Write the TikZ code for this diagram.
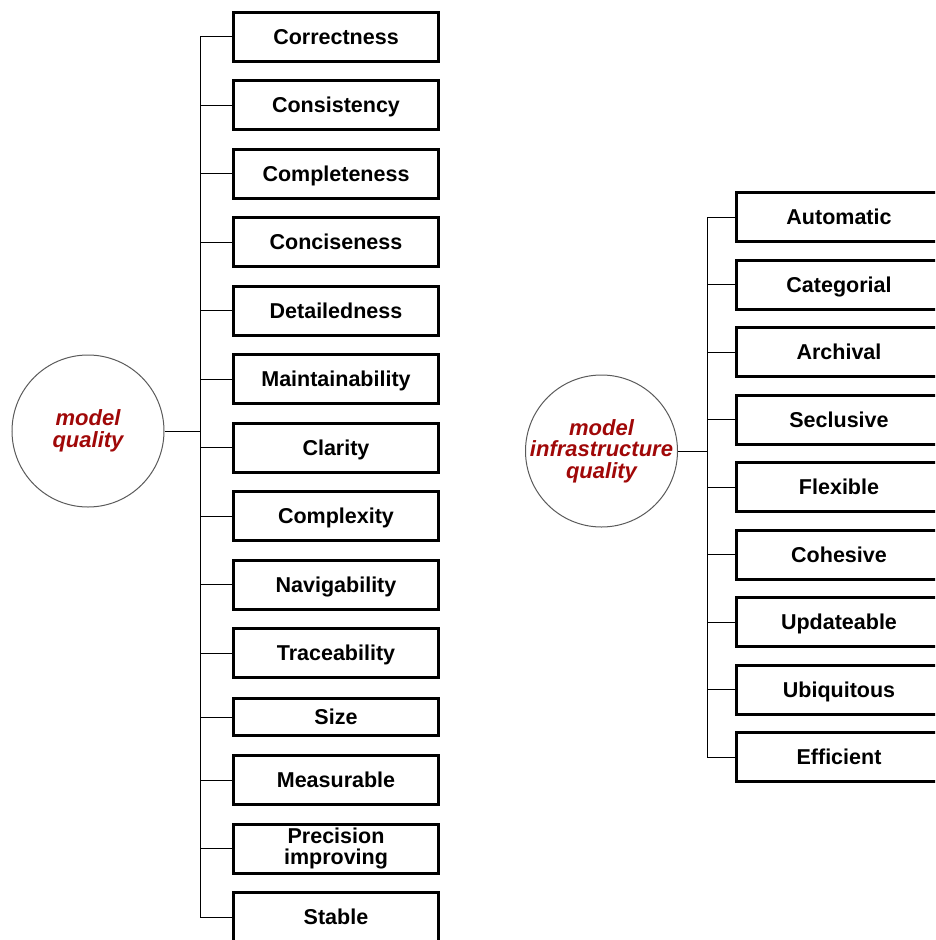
\documentclass[tikz,border=0pt]{standalone}
\usepackage{fontspec}
\setmainfont{Liberation Sans}
\definecolor{qred}{RGB}{160,8,8}
\definecolor{cgray}{RGB}{90,90,90}
\begin{document}
\begin{tikzpicture}[x=1pt,y=-1pt,
  qboxbase/.style={draw=black,line width=3pt,fill=white,minimum width=205pt,minimum height=49pt,
    inner sep=0pt,align=center,font=\fontsize{21.5}{21}\selectfont\bfseries},
  qbox/.style={qboxbase,text height=15.5pt,text depth=0pt},
  qcirc/.style={circle,draw=cgray,line width=1pt,minimum size=152pt,inner sep=0pt},
  qtext/.style={inner sep=0pt,align=center,text=qred,font=\fontsize{22}{21.5}\selectfont\bfseries\itshape},
  conn/.style={line width=1pt,draw=black}]
\useasboundingbox (0,0) rectangle (935,940);
\clip (0,0) rectangle (935,940);
% left
\node[qcirc] (mq) at (88,431) {};
\node[qtext] (mqt) at (mq.center) {model\\quality};
\coordinate (tl) at (200,0);
\node[qbox] (l1) at (336,36.5) {Correctness};
\node[qbox] (l2) at (336,105) {Consistency};
\node[qbox] (l3) at (336,173.5) {Completeness};
\node[qbox] (l4) at (336,242) {Conciseness};
\node[qbox] (l5) at (336,310.5) {Detailedness};
\node[qbox] (l6) at (336,379) {Maintainability};
\node[qbox] (l7) at (336,447.5) {Clarity};
\node[qbox] (l8) at (336,516) {Complexity};
\node[qbox] (l9) at (336,584.5) {Navigability};
\node[qbox] (l10) at (336,653) {Traceability};
\node[qbox,minimum height=37pt] (l11) at (336,717) {Size};
\node[qbox] (l12) at (336,780) {Measurable};
\node[qboxbase] (l13) at (336,848.5) {Precision\\improving};
\node[qbox] (l14) at (336,917) {Stable};
\draw[conn] (l1.west -| tl) -- (l14.west -| tl);
\foreach \i in {1,...,14} {\draw[conn] (l\i.west) -- (l\i.west -| tl);}
\draw[conn] (mq.east) -- (mq.east -| tl);
% right
\node[qcirc] (miq) at (601.5,451) {};
\node[qtext] (miqt) at (miq.center) {model\\infrastructure\\quality};
\coordinate (tr) at (707,0);
\node[qbox] (r1) at (839,217) {Automatic};
\node[qbox] (r2) at (839,284.5) {Categorial};
\node[qbox] (r3) at (839,352) {Archival};
\node[qbox] (r4) at (839,419.5) {Seclusive};
\node[qbox] (r5) at (839,487) {Flexible};
\node[qbox] (r6) at (839,554.5) {Cohesive};
\node[qbox] (r7) at (839,622) {Updateable};
\node[qbox] (r8) at (839,689.5) {Ubiquitous};
\node[qbox] (r9) at (839,757) {Efficient};
\draw[conn] (r1.west -| tr) -- (r9.west -| tr);
\foreach \i in {1,...,9} {\draw[conn] (r\i.west) -- (r\i.west -| tr);}
\draw[conn] (miq.east) -- (miq.east -| tr);
\end{tikzpicture}
\end{document}
